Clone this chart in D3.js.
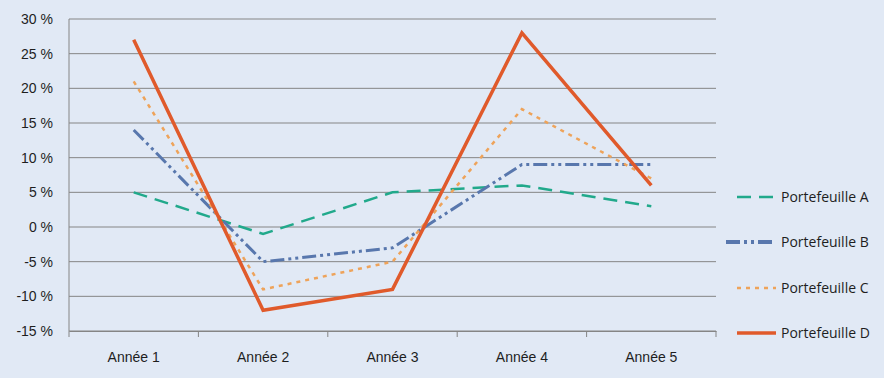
<!DOCTYPE html>
<html>
<head>
<meta charset="utf-8">
<script src="https://cdn.jsdelivr.net/npm/d3@7"></script>
<style>
  body { margin: 0; background: #e1e9f5; }
  svg { display: block; font-family: "Open Sans", sans-serif; }
</style>
</head>
<body>
<svg id="chart" width="884" height="378"></svg>
<script>
const years = ["Année 1", "Année 2", "Année 3", "Année 4", "Année 5"];
const yTicks = [-15, -10, -5, 0, 5, 10, 15, 20, 25, 30];
const seriesNames = ["Portefeuille A", "Portefeuille B", "Portefeuille C", "Portefeuille D"];
const valuesA = [5, -1, 5, 6, 3];
const valuesB = [14, -5, -3, 9, 9];
const valuesC = [21, -9, -5, 17, 7];
const valuesD = [27, -12, -9, 28, 6];

const styles = [
    { color: "#21a98b", width: 2.5, dash: "14,8" },
    { color: "#5877ad", width: 3, dash: "14,4,3,4,3,4" },
    { color: "#eea35a", width: 2.5, dash: "4,5" },
    { color: "#e05a2b", width: 3.5, dash: null }
];

const series = [valuesA, valuesB, valuesC, valuesD].map((v, i) => ({ name: seriesNames[i], values: v, style: styles[i] }));

const svg = d3.select("#chart"),
    margin = { top: 19, right: 168, bottom: 47, left: 69 },
    width = +svg.attr("width") - margin.left - margin.right,
    height = +svg.attr("height") - margin.top - margin.bottom,
    chart = svg.append("g").attr("transform", `translate(${margin.left},${margin.top})`);

svg.insert("rect", ":first-child").attr("width", 884).attr("height", 378).attr("fill", "#e1e9f5");

const x = d3.scaleBand().domain(years).range([0, width]);
const y = d3.scaleLinear().domain([-15, 30]).range([height, 0]);

// grid
chart.append("g")
    .selectAll("line")
    .data(yTicks)
    .join("line")
    .attr("x1", 0).attr("x2", width)
    .attr("y1", d => y(d)).attr("y2", d => y(d))
    .attr("stroke", "#858585").attr("stroke-width", 1);

// y axis
const yAxis = chart.append("g")
    .call(d3.axisLeft(y).tickValues(yTicks).tickSize(0).tickPadding(16).tickFormat(d => d + " %"));
yAxis.select(".domain").remove();
yAxis.selectAll("text").style("font-size", "14px").attr("fill", "#1e1e1e");

chart.append("line")
    .attr("x1", 0).attr("x2", 0).attr("y1", 0).attr("y2", height)
    .attr("stroke", "#858585");

// x axis
const xAxis = chart.append("g")
    .attr("transform", `translate(0,${height})`)
    .call(d3.axisBottom(x).tickSize(0).tickPadding(21));
xAxis.select(".domain").attr("stroke", "#858585");
xAxis.selectAll("text").style("font-size", "14px").attr("fill", "#1e1e1e");

chart.append("g")
    .selectAll("line")
    .data(d3.range(years.length + 1))
    .join("line")
    .attr("x1", i => i * x.bandwidth()).attr("x2", i => i * x.bandwidth())
    .attr("y1", height).attr("y2", height + 6)
    .attr("stroke", "#858585");

// lines
const line = d3.line()
    .x((d, i) => x(years[i]) + x.bandwidth() / 2)
    .y(d => y(d));

chart.selectAll(".series")
    .data(series)
    .join("path")
    .attr("class", "series")
    .attr("fill", "none")
    .attr("stroke", d => d.style.color)
    .attr("stroke-width", d => d.style.width)
    .attr("stroke-dasharray", d => d.style.dash)
    .attr("stroke-linejoin", "miter")
    .attr("d", d => line(d.values));

// legend
const legendY = [197, 242, 288, 333];
const legendX0 = [737, 726, 737, 737];
const legend = svg.append("g");
series.forEach((s, i) => {
    legend.append("line")
        .attr("x1", legendX0[i]).attr("x2", 776)
        .attr("y1", legendY[i]).attr("y2", legendY[i])
        .attr("stroke", s.style.color)
        .attr("stroke-width", s.style.width + (i === 1 ? 1 : 0))
        .attr("stroke-dasharray", s.style.dash);
    legend.append("text")
        .attr("x", 781).attr("y", legendY[i])
        .attr("dy", "0.35em")
        .style("font-size", "14px")
        .attr("fill", "#1e1e1e")
        .text(s.name);
});
</script>
</body>
</html>
